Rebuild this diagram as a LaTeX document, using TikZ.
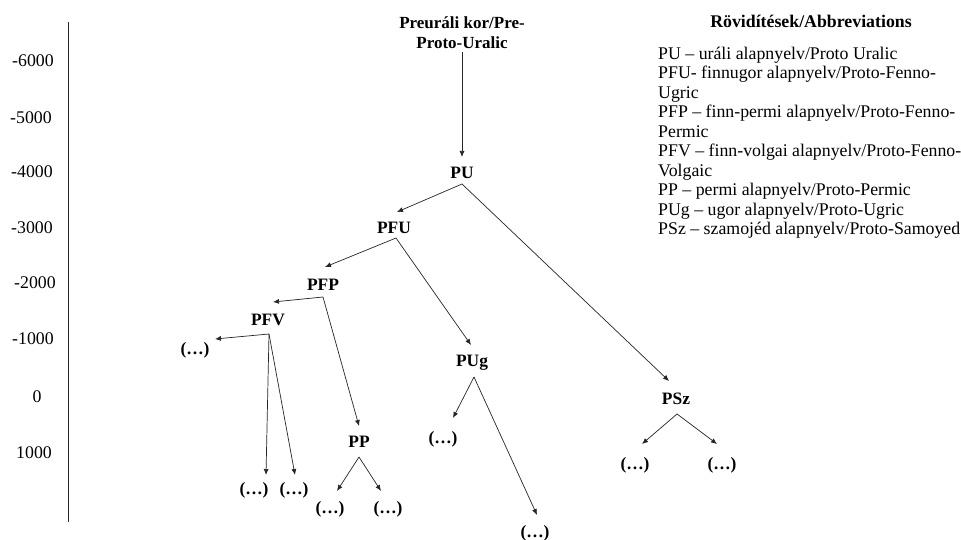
\documentclass[tikz,border=0pt]{standalone}
\usepackage{fontspec}
\setmainfont{Liberation Serif}
\usetikzlibrary{arrows.meta}
\begin{document}
\begin{tikzpicture}[x=1pt,y=-1pt,
  txt/.style={inner sep=0pt, font=\fontsize{17.8}{19.5}\selectfont},
  lbl/.style={inner sep=0pt, font=\fontsize{17.4}{20}\selectfont\bfseries},
  arr/.style={-{Latex[length=6pt,width=5pt]}, line width=0.7pt, draw=black!85},
  ]
\useasboundingbox[fill=white] (0,0) rectangle (961,540);
% time axis
\coordinate (axtop) at (68,22);
\coordinate (axbot) at (68,522);
\draw[line width=0.7pt, black!85] (axtop) -- (axbot);
\node[txt] (t1) at (33,61) {-6000};
\node[txt] (t2) at (31,118) {-5000};
\node[txt] (t3) at (32,172) {-4000};
\node[txt] (t4) at (32,228) {-3000};
\node[txt] (t5) at (35,283) {-2000};
\node[txt] (t6) at (33,339) {-1000};
\node[txt] (t7) at (37,397) {0};
\node[txt] (t8) at (34,453) {1000};
% abbreviations
\node[lbl, font=\fontsize{17.8}{20}\selectfont\bfseries, anchor=base] (abh) at (811,27.5) {Rövidítések/Abbreviations};
\foreach \i/\s in {0/{PU – uráli alapnyelv/Proto Uralic},
                   1/{PFU- finnugor alapnyelv/Proto-Fenno-},
                   2/{Ugric},
                   3/{PFP – finn-permi alapnyelv/Proto-Fenno-},
                   4/{Permic},
                   5/{PFV – finn-volgai alapnyelv/Proto-Fenno-},
                   6/{Volgaic},
                   7/{PP – permi alapnyelv/Proto-Permic},
                   8/{PUg – ugor alapnyelv/Proto-Ugric},
                   9/{PSz – szamojéd alapnyelv/Proto-Samoyed}}
  \node[txt, anchor=base west] (ab\i) at (658,59.3+19.5*\i) {\s};
% tree nodes
\node[lbl, font=\fontsize{17}{20}\selectfont\bfseries, align=center] (title) at (462,33) {Preuráli kor/Pre-\\Proto-Uralic};
\node[lbl] (PU) at (462,173) {PU};
\node[lbl] (PFU) at (394,228) {PFU};
\node[lbl] (PSz) at (676,399) {PSz};
\node[lbl] (PFP) at (323,285) {PFP};
\node[lbl] (PUg) at (472,363) {PUg};
\node[lbl] (PFV) at (268,320) {PFV};
\node[lbl] (PP) at (359,442) {PP};
\node[lbl] (L1) at (195,350) {(…)};
\node[lbl] (L2) at (254,490) {(…)};
\node[lbl] (L3) at (294,490) {(…)};
\node[lbl] (L4) at (330,509) {(…)};
\node[lbl] (L5) at (388,509) {(…)};
\node[lbl] (L6) at (443,439) {(…)};
\node[lbl] (L7) at (535,533) {(…)};
\node[lbl] (L8) at (635,465) {(…)};
\node[lbl] (L9) at (722,465) {(…)};
% connectors
\draw[arr] ([shift={(0,19)}]title.center) -- ([shift={(0,-16)}]PU.center);
\draw[arr] ([shift={(0,11)}]PU.center) -- ([shift={(3,-16)}]PFU.center);
\draw[arr] ([shift={(0,11)}]PU.center) -- ([shift={(-7,-18)}]PSz.center);
\draw[arr] ([shift={(2,10)}]PFU.center) -- ([shift={(2,-18)}]PFP.center);
\draw[arr] ([shift={(2,10)}]PFU.center) -- ([shift={(-1,-18)}]PUg.center);
\draw[arr] ([shift={(0,12)}]PFP.center) -- ([shift={(5,-18)}]PFV.center);
\draw[arr] ([shift={(0,12)}]PFP.center) -- ([shift={(0,-16)}]PP.center);
\draw[arr] ([shift={(1,14)}]PFV.center) -- ([shift={(20,-11)}]L1.center);
\draw[arr] ([shift={(1,14)}]PFV.center) -- ([shift={(12,-15)}]L2.center);
\draw[arr] ([shift={(1,14)}]PFV.center) -- ([shift={(1,-15)}]L3.center);
\draw[arr] ([shift={(0,15)}]PP.center) -- ([shift={(7,-18)}]L4.center);
\draw[arr] ([shift={(0,15)}]PP.center) -- ([shift={(-7,-18)}]L5.center);
\draw[arr] ([shift={(2,14)}]PUg.center) -- ([shift={(10,-21)}]L6.center);
\draw[arr] ([shift={(2,14)}]PUg.center) -- ([shift={(2,-18)}]L7.center);
\draw[arr] ([shift={(1,15)}]PSz.center) -- ([shift={(7,-21)}]L8.center);
\draw[arr] ([shift={(1,15)}]PSz.center) -- ([shift={(-5,-21)}]L9.center);
\end{tikzpicture}
\end{document}
